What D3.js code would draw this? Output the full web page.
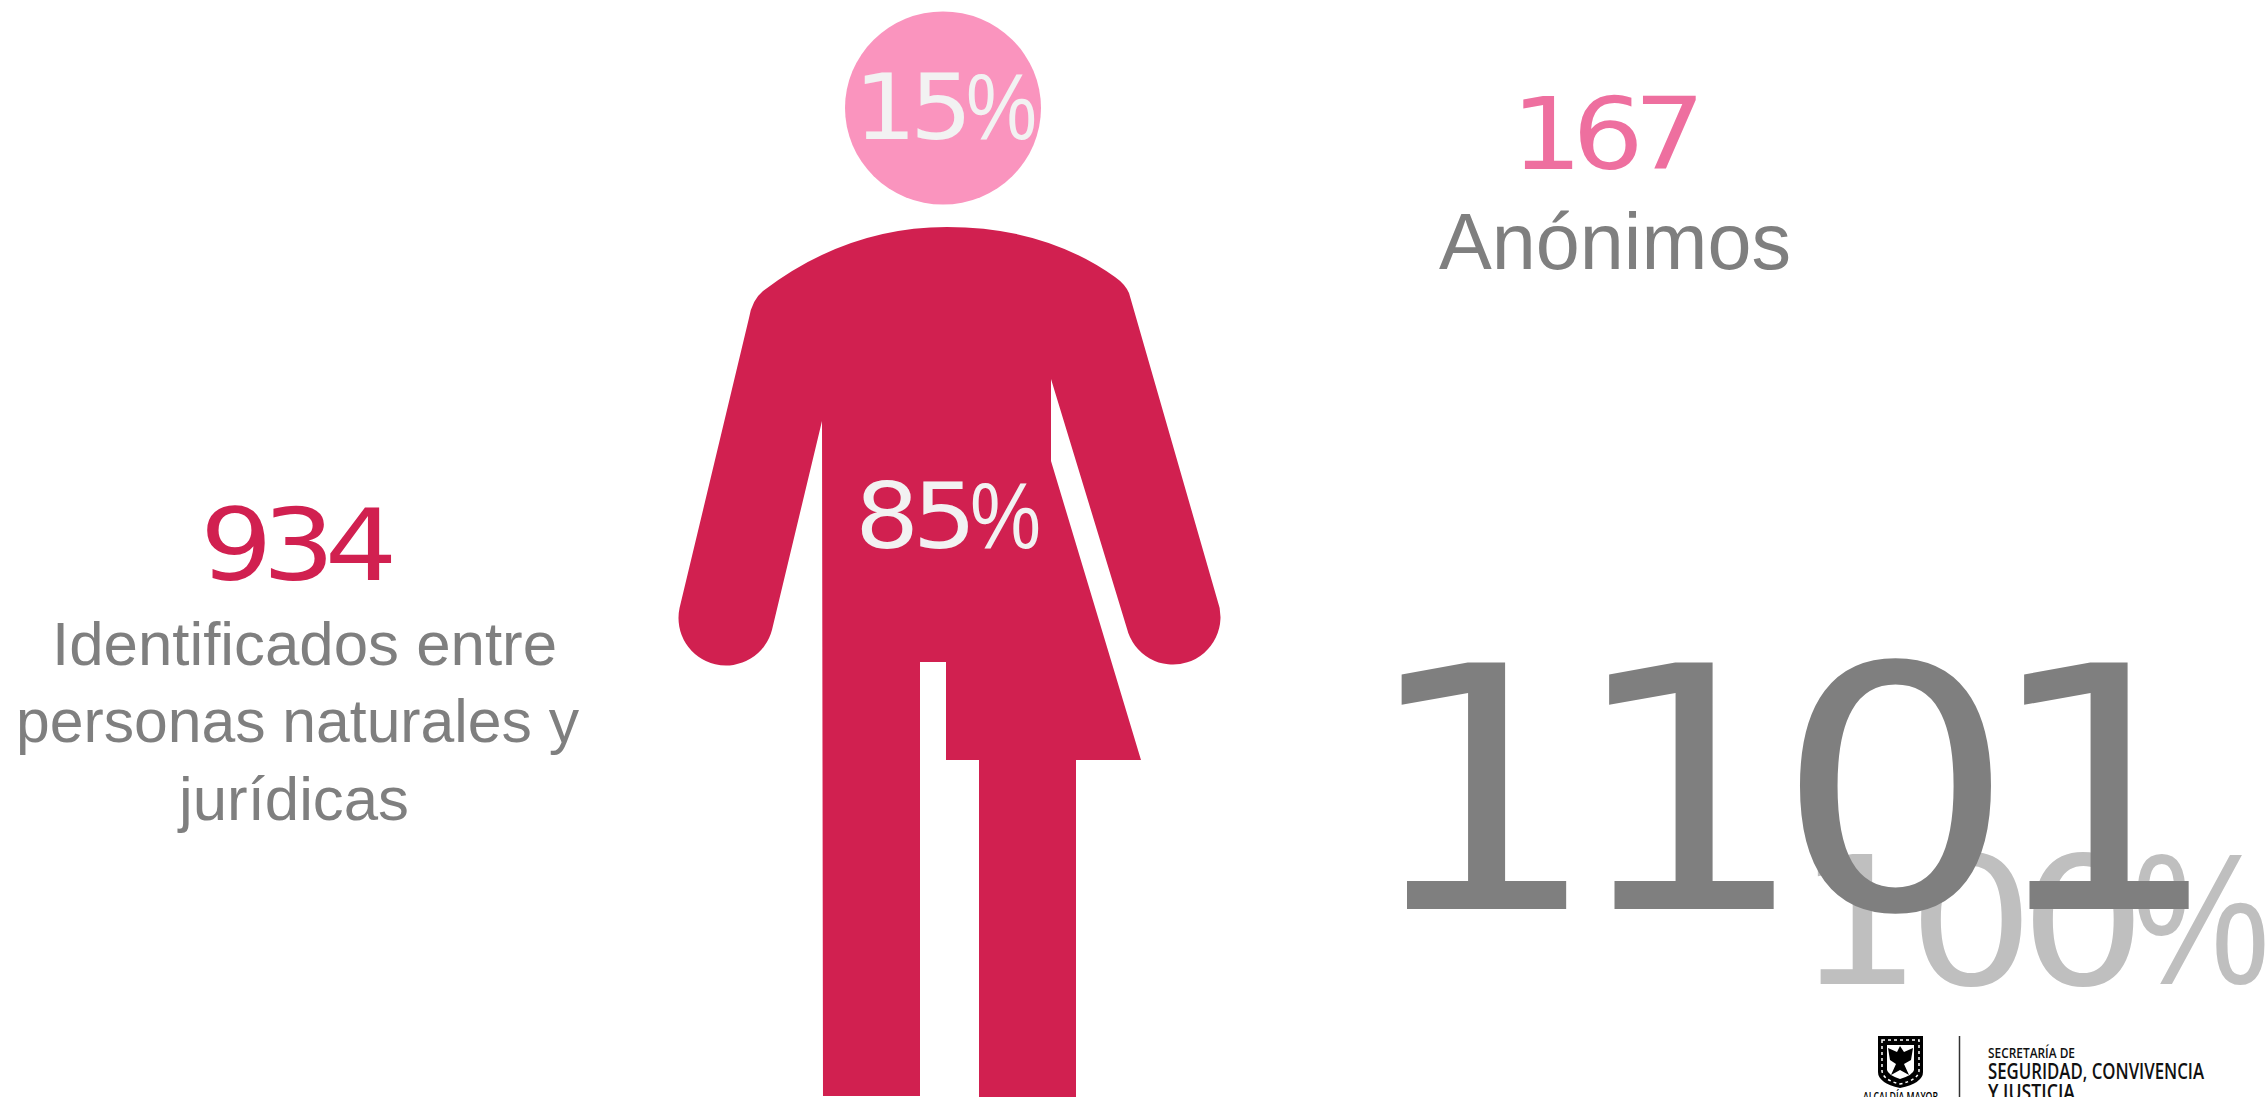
<!DOCTYPE html>
<html>
<head>
<meta charset="utf-8">
<script src="https://cdn.jsdelivr.net/npm/d3@7"></script>
<style>
  html, body { margin: 0; padding: 0; background: #fff; overflow: hidden; }
  svg { display: block; }
</style>
</head>
<body>
<div id="chart"></div>
<script>
// datos del gráfico
const groupNames = ['Identificados', 'Anónimos']
const groupCounts = [934, 167]
const groupShares = [85, 15]
const totalCount = 1101
const totalShare = 100
const identifiedLines = ['Identificados entre', 'personas naturales y', 'jurídicas']
const logoLines = ['SECRETARÍA DE', 'SEGURIDAD, CONVIVENCIA', 'Y JUSTICIA']
const logoCrestLabel = 'ALCALDÍA MAYOR'

const width = 2268, height = 1097
const digitFont = '"DejaVu Sans", sans-serif'
const labelFont = '"Liberation Sans", sans-serif'
const logoFont = '"Open Sans", sans-serif'
const color = { body: '#d12050', head: '#fa94be', count: '#ee6f9f', grey: '#7f7f7f', light: '#bfbfbf', inner: '#f2f2f2' }

const svg = d3.select('#chart').append('svg')
    .attr('width', width)
    .attr('height', height)
    .attr('viewBox', `0 0 ${width} ${height}`)

// texto con ancho fijo, x es el inicio del texto
function addText(str, x, y, size, len, fill, font, weight) {
    return svg.append('text')
        .attr('x', x)
        .attr('y', y)
        .attr('font-family', font)
        .attr('font-size', size)
        .attr('font-weight', weight || 400)
        .attr('fill', fill)
        .attr('textLength', len)
        .attr('lengthAdjust', 'spacingAndGlyphs')
        .text(str)
}

// cifras: los dígitos van más anchos y más juntos, como en la lámina
function addDigits(str, x, y, size, len, spacing, fill) {
    return addText(str, x, y, size, len, fill, digitFont)
        .style('letter-spacing', `${spacing}px`)
}

// porcentaje: dígitos y signo con anchos separados
function addPercent(value, x, y, size, digitLen, spacing, signLen, fill) {
    const t = svg.append('text')
        .attr('x', x)
        .attr('y', y)
        .attr('font-size', size)
        .attr('fill', fill)
    t.append('tspan')
        .attr('font-family', digitFont)
        .attr('textLength', digitLen)
        .attr('lengthAdjust', 'spacingAndGlyphs')
        .style('letter-spacing', `${spacing}px`)
        .text(String(value))
    t.append('tspan')
        .attr('font-family', labelFont)
        .attr('font-size', size * 1.05)
        .attr('textLength', signLen)
        .attr('lengthAdjust', 'spacingAndGlyphs')
        .text('%')
    return t
}

// figura: cuerpo
function bodyPath() {
    const p = d3.path()
    p.moveTo(947, 227)
    p.quadraticCurveTo(847, 227, 763, 291)
    p.quadraticCurveTo(752, 300, 749, 318)
    p.arc(726, 618, 47.5, Math.PI + 0.21, 0.25, true) // mano izquierda
    p.lineTo(822, 421)
    p.lineTo(823, 1096)
    p.lineTo(920, 1096)
    p.lineTo(920, 662)
    p.lineTo(946, 662)
    p.lineTo(946, 760)
    p.lineTo(979, 760)
    p.lineTo(979, 1097)
    p.lineTo(1076, 1097)
    p.lineTo(1076, 760)
    p.lineTo(1141, 760)
    p.lineTo(1051, 461)
    p.lineTo(1051, 379)
    p.arc(1173, 617, 47.5, Math.PI - 0.24, -0.37, true) // mano derecha
    p.lineTo(1129, 293)
    p.quadraticCurveTo(1125, 284, 1115, 277)
    p.quadraticCurveTo(1045, 227, 947, 227)
    p.closePath()
    return p.toString()
}

svg.append('path').attr('d', bodyPath()).attr('fill', color.body)
svg.append('ellipse')
    .attr('cx', 943).attr('cy', 108)
    .attr('rx', 98).attr('ry', 96.5)
    .attr('fill', color.head)

// porcentajes dentro de la figura
addPercent(groupShares[1], 854, 139, 90, 112, -6, 71, color.inner)
addPercent(groupShares[0], 855, 548, 90, 115, -6, 71, color.inner)

// anónimos
addDigits(String(groupCounts[1]), 1511, 169, 99, 184, -9, color.count)
addText(groupNames[1], 1439, 269, 80, 352, color.grey, labelFont)

// identificados
addDigits(String(groupCounts[0]), 200, 580, 99, 187, -9, color.body)
const lineX = [52, 16, 179], lineLen = [505, 563, 230], lineY = [665, 742, 820]
svg.selectAll('text.identified')
    .data(identifiedLines)
    .join('text')
    .attr('class', 'identified')
    .attr('x', (d, i) => lineX[i])
    .attr('y', (d, i) => lineY[i])
    .attr('font-family', labelFont)
    .attr('font-size', 62)
    .attr('fill', color.grey)
    .attr('textLength', (d, i) => lineLen[i])
    .attr('lengthAdjust', 'spacingAndGlyphs')
    .text(d => d)

// total
addPercent(totalShare, 1796, 984, 178, 336, -13, 138, color.light)
addDigits(String(totalCount), 1360, 909, 338, 830, -30, color.grey)

// logo
const logo = svg.append('g')
logo.append('path')
    .attr('d', 'M1878,1036 L1923,1036 L1923,1072 Q1923,1083 1900,1088 Q1878,1083 1878,1072 Z')
    .attr('fill', '#000')
logo.append('path')
    .attr('d', 'M1882,1040 L1919,1040 L1919,1071 Q1918,1080 1900,1084 Q1883,1080 1882,1071 Z')
    .attr('fill', 'none')
    .attr('stroke', '#fff')
    .attr('stroke-width', 1.5)
    .attr('stroke-dasharray', '3 3')
logo.append('path')
    .attr('d', 'M1887,1045 L1914,1045 L1914,1070 Q1913,1075 1900,1079 Q1888,1075 1887,1070 Z')
    .attr('fill', '#fff')
logo.append('path')
    .attr('d', 'M1888,1048 L1897,1052 L1900,1046 L1904,1052 L1913,1048 L1911,1060 L1904,1064 L1909,1075 L1900,1070 L1891,1075 L1896,1064 L1890,1060 Z')
    .attr('fill', '#000')
logo.append('line')
    .attr('x1', 1959.5).attr('x2', 1959.5)
    .attr('y1', 1036).attr('y2', 1097)
    .attr('stroke', '#333').attr('stroke-width', 1.5)
addText(logoCrestLabel, 1863, 1101, 12, 75, '#000', logoFont, 600)
addText(logoLines[0], 1988, 1058, 14.5, 87, '#111', logoFont, 600)
addText(logoLines[1], 1988, 1079, 22, 216, '#111', logoFont, 600)
addText(logoLines[2], 1988, 1100, 22, 87, '#111', logoFont, 600)
</script>
</body>
</html>
